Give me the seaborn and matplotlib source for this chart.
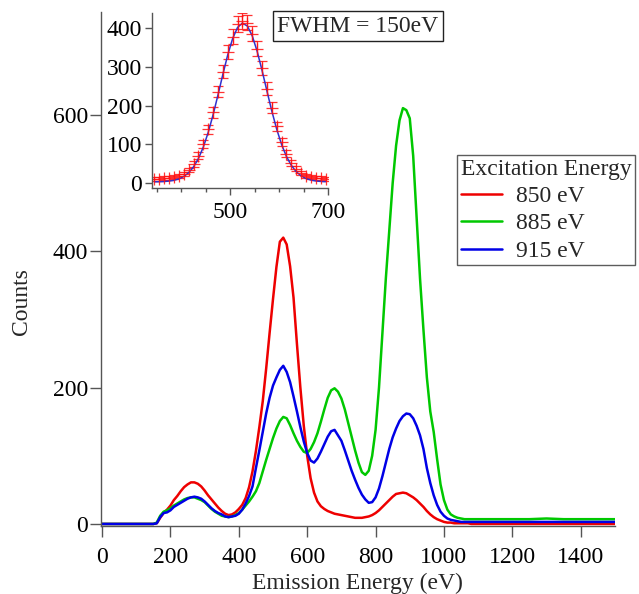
import numpy as np
import pandas as pd
import matplotlib
matplotlib.use("Agg")
import matplotlib.pyplot as plt
import seaborn as sns

# ---------------- data ----------------
energy = [0, 50, 100, 150, 160, 170, 180, 190, 200, 210, 220, 230, 240, 250, 260, 270, 280, 290,
          300, 310, 320, 330, 340, 350, 360, 370, 380, 390, 400, 410, 420, 430, 440, 450, 460,
          470, 480, 490, 500, 510, 520, 530, 540, 550, 560, 570, 580, 590, 600, 610, 620, 630,
          640, 650, 660, 670, 680, 690, 700, 710, 720, 730, 740, 750, 760, 770, 780, 790, 800,
          810, 820, 830, 840, 850, 860, 870, 880, 890, 900, 910, 920, 930, 940, 950, 960, 970,
          980, 990, 1000, 1010, 1020, 1030, 1040, 1050, 1060, 1070, 1080, 1090, 1100, 1150,
          1200, 1250, 1300, 1350, 1400, 1450, 1500]

counts_850 = [0, 0, 0, 0, 1, 9, 16, 21, 27, 35, 41, 48, 54, 58, 61, 61, 59, 55,
              49, 42, 36, 30, 24, 19, 15, 13, 14, 17, 22, 28, 38, 54, 77, 107, 142,
              180, 228, 280, 330, 377, 414, 420, 410, 378, 332, 264, 200, 144, 100, 67, 46, 33,
              26, 22, 19, 17, 15, 14, 13, 12, 11, 10, 9, 9, 9, 10, 11, 13, 16,
              20, 25, 30, 35, 40, 44, 45, 46, 45, 42, 39, 35, 30, 25, 19, 14, 10,
              7, 5, 3, 2, 2, 1, 1, 1, 1, 1, 0, 0, 0, 0,
              0, 0, 0, 0, 0, 0, 0]

counts_885 = [0, 0, 0, 0, 2, 12, 18, 20, 23, 27, 30, 33, 36, 38, 39, 39, 37, 35,
              32, 27, 22, 18, 15, 12, 11, 10, 11, 13, 16, 21, 27, 33, 40, 48, 60,
              77, 94, 110, 126, 140, 151, 157, 155, 145, 133, 122, 113, 106, 104, 110, 120, 133,
              150, 168, 185, 196, 199, 194, 184, 168, 148, 128, 108, 90, 76, 72, 78, 100, 138,
              200, 280, 360, 430, 500, 555, 592, 610, 607, 595, 540, 450, 360, 285, 215, 165, 135,
              95, 58, 35, 21, 14, 11, 9, 8, 7, 7, 7, 7, 7, 7,
              7, 7, 8, 7, 7, 7, 7]

counts_915 = [0, 0, 0, 0, 1, 10, 16, 17, 20, 25, 28, 31, 34, 37, 39, 40, 39, 37,
              33, 28, 23, 19, 16, 14, 11, 10, 11, 12, 15, 21, 30, 41, 55, 82, 108,
              135, 162, 185, 203, 215, 226, 232, 223, 208, 187, 165, 142, 121, 104, 93, 90, 96,
              106, 117, 128, 136, 138, 130, 122, 108, 93, 78, 65, 53, 43, 36, 31, 32, 39,
              52, 70, 90, 110, 127, 140, 151, 158, 162, 161, 155, 144, 130, 110, 82, 60, 42,
              28, 18, 12, 8, 6, 5, 4, 3, 3, 3, 3, 3, 3, 3,
              3, 3, 3, 3, 3, 3, 3]

series_labels = ["850 eV", "885 eV", "915 eV"]
series_colors = ["#ee0000", "#00c800", "#0000e6"]

# inset: measured points with error bars, and fitted curve
inset_energy = [345, 355, 365, 375, 385, 395, 405, 415, 425, 435, 445, 455, 465, 475, 485, 495,
                505, 515, 525, 535, 545, 555, 565, 575, 585, 595, 605, 615, 625, 635, 645, 655,
                665, 675, 685, 695]
inset_counts = [11, 10, 12, 12, 15, 18, 24, 34, 49, 71, 100, 139, 183, 236, 287, 339,
                378, 410, 418, 414, 386, 347, 297, 244, 194, 146, 106, 76, 52, 37, 25, 19,
                15, 13, 12, 11]
inset_err = [5, 5, 5, 5, 5, 5, 5, 6, 7, 8, 10, 12, 14, 15, 17, 18,
             19, 20, 20, 20, 20, 19, 17, 16, 14, 12, 10, 9, 7, 6, 5, 5,
             5, 5, 5, 5]
inset_fit = [3.2, 3.5, 4.0, 5.1, 7.1, 10.7, 16.9, 26.7, 41.8, 63.4, 92.9, 130.8, 176.4, 227.7,
             280.9, 331.3, 373.2, 401.7, 413.0, 405.4, 380.2, 340.5, 291.4, 238.3, 186.3, 139.3,
             99.8, 68.6, 45.5, 29.3, 18.5, 11.7, 7.7, 5.4, 4.2, 3.6]

# ---------------- style ----------------
sns.set_style("ticks")
plt.rcParams["font.family"] = ["Liberation Serif", "DejaVu Serif"]
FS = 17

df = pd.DataFrame({
    "Emission Energy (eV)": energy * 3,
    "Counts": counts_850 + counts_885 + counts_915,
    "Excitation Energy": [series_labels[0]] * len(energy) + [series_labels[1]] * len(energy)
                         + [series_labels[2]] * len(energy),
})

fig = plt.figure(figsize=(6.39, 5.94), dpi=100)
ax = fig.add_axes([100.7 / 639, 1 - 526 / 594, 514.2 / 639, 514 / 594])

sns.lineplot(data=df, x="Emission Energy (eV)", y="Counts", hue="Excitation Energy",
             palette=dict(zip(series_labels, series_colors)), estimator=None, sort=False,
             linewidth=1.8, ax=ax, legend=False)

ax.set_xlim(-4, 1500)
ax.set_ylim(-3, 751)
ax.set_xticks(range(0, 1401, 200))
ax.set_yticks([0, 200, 400, 600])
for s in ["top", "right"]:
    ax.spines[s].set_visible(False)
for s in ["left", "bottom"]:
    ax.spines[s].set_color("#555555")
    ax.spines[s].set_linewidth(1.0)
ax.tick_params(axis="both", direction="out", length=8, width=1.0, color="#555555",
               labelsize=FS, labelcolor="black")
ax.tick_params(axis="y", pad=1)
ax.tick_params(axis="x", pad=7)
ax.set_xlabel("Emission Energy (eV)", fontsize=FS)
ax.set_ylabel("Counts", fontsize=FS)
ax.xaxis.set_label_coords(0.5, -0.092)
ax.yaxis.set_label_coords(-0.134, 0.436)

handles = ax.lines[:3]
leg = ax.legend(handles, series_labels, title="Excitation Energy", fontsize=FS,
                title_fontsize=FS, loc="upper right",
                bbox_to_anchor=(635 / 639, 1 - 155 / 594), bbox_transform=fig.transFigure,
                frameon=True, fancybox=False, borderpad=0.15, handlelength=1.75,
                handletextpad=0.6, labelspacing=0.25, borderaxespad=0, alignment="left")
leg.get_frame().set_edgecolor("#333333")
leg.get_frame().set_linewidth(1.0)

# ---------------- inset ----------------
ax2 = fig.add_axes([152 / 639, 1 - 187.7 / 594, 176 / 639, 174.7 / 594])
ax2.errorbar(inset_energy, inset_counts, yerr=inset_err, fmt="+", color="#ff1010",
             ecolor="#ff1010", elinewidth=0.9, capsize=3.5, capthick=0.9, markersize=8,
             markeredgewidth=0.9, alpha=0.85)
sns.lineplot(x=inset_energy, y=inset_fit, color="#3030d0", linewidth=1.1, ax=ax2)
ax2.set_xlim(340, 700)
ax2.set_ylim(-12, 439)
ax2.set_xticks([500, 700])
ax2.set_xticks([350, 400, 450, 550, 600, 650], minor=True)
ax2.set_yticks([0, 100, 200, 300, 400])
for s in ["top", "right"]:
    ax2.spines[s].set_visible(False)
for s in ["left", "bottom"]:
    ax2.spines[s].set_color("#555555")
    ax2.spines[s].set_linewidth(1.0)
ax2.tick_params(axis="both", which="major", direction="out", length=5, width=1.0,
                color="#555555", labelsize=FS, labelcolor="black")
ax2.tick_params(axis="x", which="minor", direction="out", length=3, width=1.0, color="#555555")
ax2.tick_params(axis="y", pad=2)
ax2.tick_params(axis="x", pad=5)
ax2.set_xlabel("")
ax2.set_ylabel("")

fig.text(358 / 639, 1 - 26 / 594, "FWHM = 150eV", fontsize=FS, ha="center", va="center",
         bbox=dict(boxstyle="square,pad=0.2", facecolor="white", edgecolor="#222222", linewidth=1.0))

fig.savefig("out.png", dpi=100)
